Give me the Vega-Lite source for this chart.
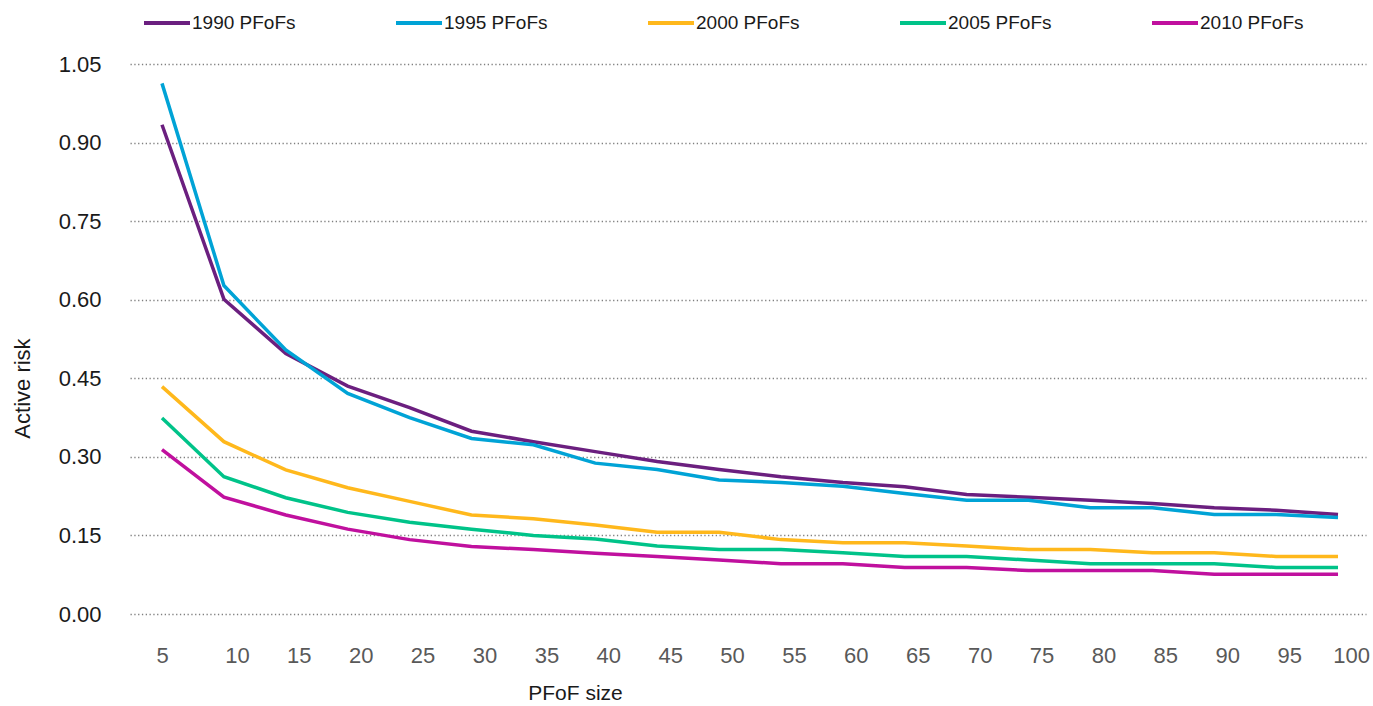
{
  "$schema": "https://vega.github.io/schema/vega-lite/v6.json",
  "autosize": {"type": "none"},
  "padding": {"left": 130, "top": 64, "right": 7, "bottom": 92},
  "width": 1236,
  "height": 550,
  "background": "white",
  "config": {
    "view": {"stroke": null},
    "font": "Liberation Sans"
  },
  "data": {
    "values": [
      {"size": 5, "series": "1990 PFoFs", "risk": 0.934},
      {"size": 10, "series": "1990 PFoFs", "risk": 0.601},
      {"size": 15, "series": "1990 PFoFs", "risk": 0.497},
      {"size": 20, "series": "1990 PFoFs", "risk": 0.435},
      {"size": 25, "series": "1990 PFoFs", "risk": 0.394},
      {"size": 30, "series": "1990 PFoFs", "risk": 0.349},
      {"size": 35, "series": "1990 PFoFs", "risk": 0.329},
      {"size": 40, "series": "1990 PFoFs", "risk": 0.310},
      {"size": 45, "series": "1990 PFoFs", "risk": 0.291},
      {"size": 50, "series": "1990 PFoFs", "risk": 0.276},
      {"size": 55, "series": "1990 PFoFs", "risk": 0.262},
      {"size": 60, "series": "1990 PFoFs", "risk": 0.251},
      {"size": 65, "series": "1990 PFoFs", "risk": 0.243},
      {"size": 70, "series": "1990 PFoFs", "risk": 0.228},
      {"size": 75, "series": "1990 PFoFs", "risk": 0.223},
      {"size": 80, "series": "1990 PFoFs", "risk": 0.217},
      {"size": 85, "series": "1990 PFoFs", "risk": 0.211},
      {"size": 90, "series": "1990 PFoFs", "risk": 0.203},
      {"size": 95, "series": "1990 PFoFs", "risk": 0.198},
      {"size": 100, "series": "1990 PFoFs", "risk": 0.190},
      {"size": 5, "series": "1995 PFoFs", "risk": 1.013},
      {"size": 10, "series": "1995 PFoFs", "risk": 0.627},
      {"size": 15, "series": "1995 PFoFs", "risk": 0.504},
      {"size": 20, "series": "1995 PFoFs", "risk": 0.421},
      {"size": 25, "series": "1995 PFoFs", "risk": 0.375},
      {"size": 30, "series": "1995 PFoFs", "risk": 0.335},
      {"size": 35, "series": "1995 PFoFs", "risk": 0.323},
      {"size": 40, "series": "1995 PFoFs", "risk": 0.288},
      {"size": 45, "series": "1995 PFoFs", "risk": 0.276},
      {"size": 50, "series": "1995 PFoFs", "risk": 0.256},
      {"size": 55, "series": "1995 PFoFs", "risk": 0.251},
      {"size": 60, "series": "1995 PFoFs", "risk": 0.244},
      {"size": 65, "series": "1995 PFoFs", "risk": 0.230},
      {"size": 70, "series": "1995 PFoFs", "risk": 0.217},
      {"size": 75, "series": "1995 PFoFs", "risk": 0.217},
      {"size": 80, "series": "1995 PFoFs", "risk": 0.203},
      {"size": 85, "series": "1995 PFoFs", "risk": 0.203},
      {"size": 90, "series": "1995 PFoFs", "risk": 0.190},
      {"size": 95, "series": "1995 PFoFs", "risk": 0.190},
      {"size": 100, "series": "1995 PFoFs", "risk": 0.184},
      {"size": 5, "series": "2000 PFoFs", "risk": 0.434},
      {"size": 10, "series": "2000 PFoFs", "risk": 0.329},
      {"size": 15, "series": "2000 PFoFs", "risk": 0.275},
      {"size": 20, "series": "2000 PFoFs", "risk": 0.241},
      {"size": 25, "series": "2000 PFoFs", "risk": 0.215},
      {"size": 30, "series": "2000 PFoFs", "risk": 0.189},
      {"size": 35, "series": "2000 PFoFs", "risk": 0.182},
      {"size": 40, "series": "2000 PFoFs", "risk": 0.170},
      {"size": 45, "series": "2000 PFoFs", "risk": 0.156},
      {"size": 50, "series": "2000 PFoFs", "risk": 0.156},
      {"size": 55, "series": "2000 PFoFs", "risk": 0.142},
      {"size": 60, "series": "2000 PFoFs", "risk": 0.136},
      {"size": 65, "series": "2000 PFoFs", "risk": 0.136},
      {"size": 70, "series": "2000 PFoFs", "risk": 0.130},
      {"size": 75, "series": "2000 PFoFs", "risk": 0.123},
      {"size": 80, "series": "2000 PFoFs", "risk": 0.123},
      {"size": 85, "series": "2000 PFoFs", "risk": 0.117},
      {"size": 90, "series": "2000 PFoFs", "risk": 0.117},
      {"size": 95, "series": "2000 PFoFs", "risk": 0.110},
      {"size": 100, "series": "2000 PFoFs", "risk": 0.110},
      {"size": 5, "series": "2005 PFoFs", "risk": 0.374},
      {"size": 10, "series": "2005 PFoFs", "risk": 0.262},
      {"size": 15, "series": "2005 PFoFs", "risk": 0.222},
      {"size": 20, "series": "2005 PFoFs", "risk": 0.194},
      {"size": 25, "series": "2005 PFoFs", "risk": 0.175},
      {"size": 30, "series": "2005 PFoFs", "risk": 0.162},
      {"size": 35, "series": "2005 PFoFs", "risk": 0.150},
      {"size": 40, "series": "2005 PFoFs", "risk": 0.143},
      {"size": 45, "series": "2005 PFoFs", "risk": 0.130},
      {"size": 50, "series": "2005 PFoFs", "risk": 0.123},
      {"size": 55, "series": "2005 PFoFs", "risk": 0.123},
      {"size": 60, "series": "2005 PFoFs", "risk": 0.117},
      {"size": 65, "series": "2005 PFoFs", "risk": 0.110},
      {"size": 70, "series": "2005 PFoFs", "risk": 0.110},
      {"size": 75, "series": "2005 PFoFs", "risk": 0.103},
      {"size": 80, "series": "2005 PFoFs", "risk": 0.096},
      {"size": 85, "series": "2005 PFoFs", "risk": 0.096},
      {"size": 90, "series": "2005 PFoFs", "risk": 0.096},
      {"size": 95, "series": "2005 PFoFs", "risk": 0.089},
      {"size": 100, "series": "2005 PFoFs", "risk": 0.089},
      {"size": 5, "series": "2010 PFoFs", "risk": 0.314},
      {"size": 10, "series": "2010 PFoFs", "risk": 0.223},
      {"size": 15, "series": "2010 PFoFs", "risk": 0.189},
      {"size": 20, "series": "2010 PFoFs", "risk": 0.162},
      {"size": 25, "series": "2010 PFoFs", "risk": 0.142},
      {"size": 30, "series": "2010 PFoFs", "risk": 0.129},
      {"size": 35, "series": "2010 PFoFs", "risk": 0.123},
      {"size": 40, "series": "2010 PFoFs", "risk": 0.116},
      {"size": 45, "series": "2010 PFoFs", "risk": 0.110},
      {"size": 50, "series": "2010 PFoFs", "risk": 0.103},
      {"size": 55, "series": "2010 PFoFs", "risk": 0.096},
      {"size": 60, "series": "2010 PFoFs", "risk": 0.096},
      {"size": 65, "series": "2010 PFoFs", "risk": 0.089},
      {"size": 70, "series": "2010 PFoFs", "risk": 0.089},
      {"size": 75, "series": "2010 PFoFs", "risk": 0.083},
      {"size": 80, "series": "2010 PFoFs", "risk": 0.083},
      {"size": 85, "series": "2010 PFoFs", "risk": 0.083},
      {"size": 90, "series": "2010 PFoFs", "risk": 0.076},
      {"size": 95, "series": "2010 PFoFs", "risk": 0.076},
      {"size": 100, "series": "2010 PFoFs", "risk": 0.076}
    ]
  },
  "mark": {"type": "line", "strokeWidth": 3.5, "strokeJoin": "miter"},
  "encoding": {
    "x": {
      "field": "size",
      "type": "quantitative",
      "scale": {"domain": [2.415, 102.26], "nice": false, "zero": false},
      "axis": {
        "title": "PFoF size",
        "values": [5, 10, 15, 20, 25, 30, 35, 40, 45, 50, 55, 60, 65, 70, 75, 80, 85, 90, 95, 100],
        "grid": false,
        "ticks": false,
        "domain": false,
        "labelFontSize": 22,
        "labelColor": "#595959",
        "labelFont": "Liberation Sans",
        "labelBaseline": "middle",
        "labelPadding": 41,
        "labelOffset": {"expr": "datum.value == 5 ? 0 : 13"},
        "labelOverlap": false,
        "labelFlush": false,
        "titleFontSize": 21,
        "titleFontWeight": "normal",
        "titleColor": "#1a1a1a",
        "titleFont": "Liberation Sans",
        "titleAnchor": "start",
        "titleAlign": "center",
        "titleBaseline": "middle",
        "titleX": 445,
        "titleY": 79
      }
    },
    "y": {
      "field": "risk",
      "type": "quantitative",
      "scale": {"domain": [0, 1.05], "nice": false},
      "axis": {
        "title": "Active risk",
        "values": [0, 0.15, 0.3, 0.45, 0.6, 0.75, 0.9, 1.05],
        "format": ".2f",
        "grid": true,
        "gridDash": [1.3, 2.5],
        "gridColor": "#808080",
        "gridWidth": 1.4,
        "ticks": false,
        "domain": false,
        "labelFontSize": 22,
        "labelColor": "#1a1a1a",
        "labelFont": "Liberation Sans",
        "labelPadding": 29,
        "titleFontSize": 22,
        "titleFontWeight": "normal",
        "titleColor": "#1a1a1a",
        "titleFont": "Liberation Sans",
        "titleAngle": -90,
        "titleAlign": "center",
        "titleBaseline": "middle",
        "titleX": -108,
        "titleY": 324
      }
    },
    "color": {
      "field": "series",
      "type": "nominal",
      "scale": {
        "domain": ["1990 PFoFs", "1995 PFoFs", "2000 PFoFs", "2005 PFoFs", "2010 PFoFs"],
        "range": ["#6B1F7F", "#00A3D6", "#FFB81C", "#00C389", "#C0109E"]
      },
      "legend": {
        "title": null,
        "orient": "none",
        "legendX": 12,
        "legendY": -66,
        "direction": "horizontal",
        "columns": 5,
        "gridAlign": "all",
        "columnPadding": 92,
        "padding": 0,
        "symbolType": "stroke",
        "symbolSize": 2116,
        "symbolStrokeWidth": 4,
        "labelFontSize": 19,
        "labelFont": "Liberation Sans",
        "labelColor": "#1a1a1a",
        "labelOffset": 0,
        "labelLimit": 200
      }
    }
  }
}
